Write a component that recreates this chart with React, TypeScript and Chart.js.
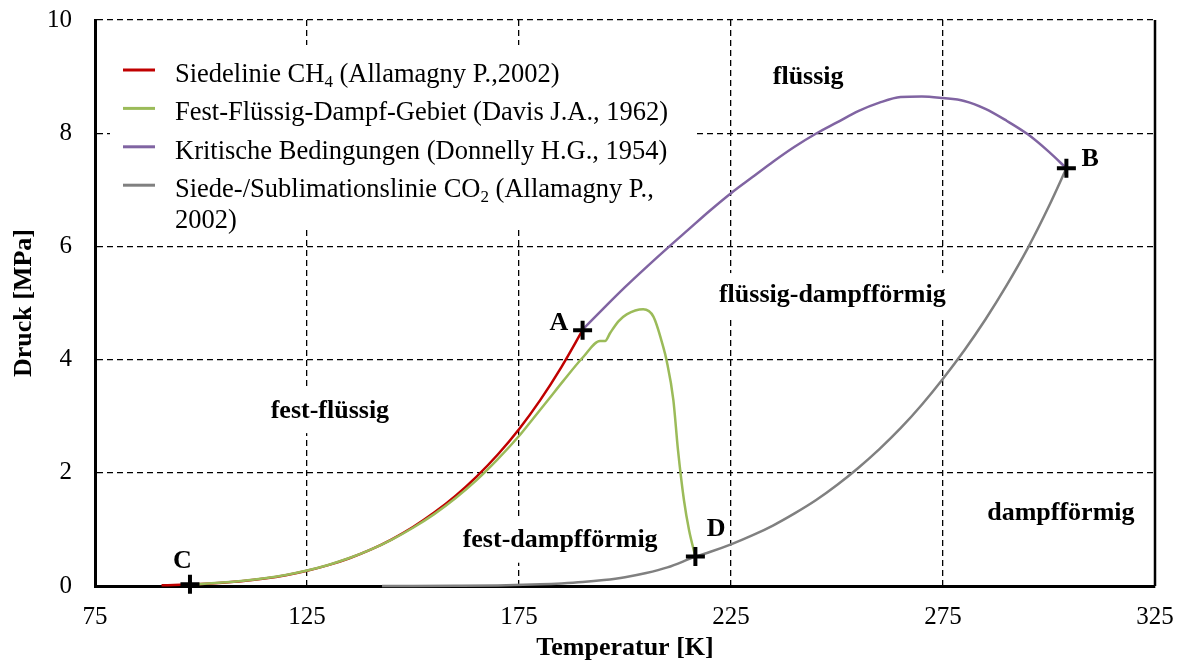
import { useEffect, useRef } from "react";
import { Chart, registerables } from "chart.js";

Chart.register(...registerables);

const SERIF = '"Liberation Serif", "Times New Roman", serif';

// Siedelinie CH4 (Allamagny P., 2002): temperature [K] / pressure [MPa]
const ch4BoilT = [90.7, 95, 100, 105, 110, 115, 120, 125, 130, 135, 140, 145, 150, 155, 160, 165, 170, 175, 180, 185, 190.0];
const ch4BoilP = [0.012, 0.02, 0.034, 0.057, 0.088, 0.132, 0.191, 0.269, 0.368, 0.491, 0.642, 0.825, 1.042, 1.297, 1.592, 1.933, 2.323, 2.77, 3.284, 3.868, 4.52];

// Fest-Flüssig-Dampf-Gebiet (Davis J.A., 1962)
const slvT = [97.4, 100, 105, 110, 115, 120, 125, 130, 135, 140, 145, 150, 155, 160, 165, 170, 175, 177.6, 181.9, 185.4, 190.2, 194.1, 195.3, 196.5, 198.5, 200.4, 204.3, 206.7, 209.0, 209.8, 211.4, 212.5, 213.9, 215.1, 216.6];
const slvP = [0.03, 0.037, 0.06, 0.092, 0.136, 0.196, 0.274, 0.372, 0.494, 0.642, 0.82, 1.03, 1.27, 1.55, 1.87, 2.24, 2.65, 2.89, 3.29, 3.62, 4.05, 4.33, 4.33, 4.47, 4.68, 4.8, 4.89, 4.76, 4.23, 3.99, 3.29, 2.4, 1.52, 0.99, 0.52];

// Kritische Bedingungen (Donnelly H.G., 1954)
const criticalT = [190.0, 195, 200, 205, 210, 215, 220, 225, 230, 235, 240, 245, 250, 255, 260, 265, 270, 275, 280, 285, 290, 295, 300, 304.1];
const criticalP = [4.53, 4.91, 5.28, 5.63, 5.97, 6.3, 6.63, 6.94, 7.22, 7.5, 7.76, 7.99, 8.19, 8.39, 8.54, 8.64, 8.65, 8.62, 8.57, 8.43, 8.22, 7.98, 7.67, 7.38];

// Siede-/Sublimationslinie CO2 (Allamagny P., 2002)
const co2T = [142.7, 150, 160, 170, 180, 185, 190, 195, 200, 205, 210, 216.6, 220, 225, 230, 235, 240, 245, 250, 255, 260, 265, 270, 275, 280, 285, 290, 295, 300, 304.1];
const co2P = [0.0004, 0.001, 0.004, 0.011, 0.029, 0.045, 0.069, 0.105, 0.156, 0.229, 0.329, 0.518, 0.6, 0.736, 0.893, 1.073, 1.283, 1.515, 1.785, 2.086, 2.419, 2.788, 3.203, 3.662, 4.161, 4.709, 5.31, 5.969, 6.713, 7.38];

// Characteristic points A–D
const pointNames = ["A", "B", "C", "D"];
const pointT = [190.0, 304.1, 97.4, 216.6];
const pointP = [4.52, 7.38, 0.03, 0.52];
// where the letter of each point is written
const pointLabelT = [184.4, 309.7, 95.6, 221.5];
const pointLabelP = [4.65, 7.54, 0.44, 1.0];

// Phase regions
const regionNames = ["flüssig", "flüssig-dampfförmig", "fest-flüssig", "fest-dampfförmig", "dampfförmig"];
const regionT = [243.2, 248.9, 130.4, 184.7, 302.8];
const regionP = [8.98, 5.14, 3.09, 0.8, 1.29];

const seriesColors = ["#C00000", "#9BBB59", "#8064A2", "#808080"];
// Legend rows: text split into normal and subscript parts, one array per printed line
const legendRows = [
  [[{ t: "Siedelinie CH" }, { t: "4", sub: true }, { t: " (Allamagny P.,2002)" }]],
  [[{ t: "Fest-Flüssig-Dampf-Gebiet (Davis J.A., 1962)" }]],
  [[{ t: "Kritische Bedingungen (Donnelly H.G., 1954)" }]],
  [[{ t: "Siede-/Sublimationslinie CO" }, { t: "2", sub: true }, { t: " (Allamagny P.," }], [{ t: "2002)" }]],
];

const toXY = (xs: number[], ys: number[]) => xs.map((x, i) => ({ x, y: ys[i] }));

type Part = { t: string; sub?: boolean };

function drawRich(ctx: CanvasRenderingContext2D, parts: Part[], x: number, baseline: number) {
  let cx = x;
  for (const p of parts) {
    ctx.font = p.sub ? `17px ${SERIF}` : `26.5px ${SERIF}`;
    ctx.fillText(p.t, cx, baseline + (p.sub ? 5 : 0));
    cx += ctx.measureText(p.t).width;
  }
}

const annotations = {
  id: "phaseAnnotations",
  beforeDatasetsDraw(chart: any) {
    const { ctx, chartArea, scales } = chart;
    const xs = scales.x;
    const ys = scales.y;
    ctx.save();

    // legend panel
    const lx = chartArea.left + 15;
    const ly = chartArea.top + 25;
    ctx.fillStyle = "#ffffff";
    ctx.fillRect(lx, ly, 583, 182);
    ctx.textAlign = "left";
    ctx.textBaseline = "alphabetic";
    let rowY = chartArea.top + 50;
    legendRows.forEach((row, i) => {
      ctx.strokeStyle = seriesColors[i];
      ctx.lineWidth = 3;
      ctx.beginPath();
      ctx.moveTo(chartArea.left + 28, rowY);
      ctx.lineTo(chartArea.left + 60, rowY);
      ctx.stroke();
      ctx.fillStyle = "#000000";
      row.forEach((line, j) => {
        drawRich(ctx, line as Part[], chartArea.left + 80, rowY + 11.7 + j * 31);
      });
      rowY += 38.4;
    });

    // region names on white ground
    ctx.font = `bold 26px ${SERIF}`;
    ctx.textAlign = "center";
    ctx.textBaseline = "middle";
    regionNames.forEach((name, i) => {
      const px = xs.getPixelForValue(regionT[i]);
      const py = ys.getPixelForValue(regionP[i]);
      const w = ctx.measureText(name).width;
      ctx.fillStyle = "#ffffff";
      ctx.fillRect(px - w / 2 - 6, py - 22, w + 12, 44);
      ctx.fillStyle = "#000000";
      ctx.fillText(name, px, py);
    });
    ctx.restore();
  },
  afterDatasetsDraw(chart: any) {
    const { ctx, chartArea, scales } = chart;
    ctx.save();
    // closing frame line on the right
    ctx.strokeStyle = "#000000";
    ctx.lineWidth = 2.5;
    ctx.beginPath();
    ctx.moveTo(chartArea.right, chartArea.top);
    ctx.lineTo(chartArea.right, chartArea.bottom);
    ctx.stroke();

    ctx.font = `bold 26px ${SERIF}`;
    ctx.textAlign = "center";
    ctx.textBaseline = "middle";
    ctx.fillStyle = "#000000";
    pointNames.forEach((n, i) => {
      ctx.fillText(n, scales.x.getPixelForValue(pointLabelT[i]), scales.y.getPixelForValue(pointLabelP[i]));
    });
    ctx.restore();
  },
};

export default function App() {
  const canvasRef = useRef<HTMLCanvasElement | null>(null);

  useEffect(() => {
    const canvas = canvasRef.current;
    if (!canvas) return;

    const lineSet = (label: string, xs: number[], ys: number[], color: string, order: number) => ({
      type: "line" as const,
      label,
      data: toXY(xs, ys),
      borderColor: color,
      backgroundColor: color,
      borderWidth: 2.5,
      pointRadius: 0,
      fill: false,
      cubicInterpolationMode: "monotone" as const,
      clip: 8,
      order,
    });

    const chart = new Chart(canvas, {
      type: "line",
      data: {
        datasets: [
          lineSet("Siedelinie CH4 (Allamagny P.,2002)", ch4BoilT, ch4BoilP, seriesColors[0], 4),
          lineSet("Fest-Flüssig-Dampf-Gebiet (Davis J.A., 1962)", slvT, slvP, seriesColors[1], 3),
          lineSet("Kritische Bedingungen (Donnelly H.G., 1954)", criticalT, criticalP, seriesColors[2], 2),
          lineSet("Siede-/Sublimationslinie CO2 (Allamagny P., 2002)", co2T, co2P, seriesColors[3], 2),
          {
            type: "scatter" as const,
            label: "Punkte",
            data: toXY(pointT, pointP),
            showLine: false,
            pointStyle: "cross",
            pointRadius: 9.5,
            pointBorderWidth: 4,
            borderColor: "#000000",
            backgroundColor: "#000000",
            clip: 12,
            order: 0,
          },
        ] as any,
      },
      options: {
        responsive: false,
        animation: false,
        events: [],
        layout: { autoPadding: false, padding: { top: 20, right: 28, left: 0, bottom: 0 } },
        plugins: {
          legend: { display: false },
          tooltip: { enabled: false },
        },
        scales: {
          x: {
            type: "linear",
            min: 75,
            max: 325,
            afterFit: (s: any) => {
              s.height = 78;
              s.paddingLeft = 0;
              s.paddingRight = 0;
            },
            afterBuildTicks: (s: any) => {
              s.ticks = [75, 125, 175, 225, 275, 325].map((v) => ({ value: v }));
            },
            ticks: {
              color: "#000000",
              font: { family: SERIF, size: 25 },
              padding: 16,
              maxRotation: 0,
            },
            grid: { color: "#000000", lineWidth: 1.3, drawTicks: false },
            border: { display: true, color: "#000000", width: 3, dash: [6, 4] },
            title: {
              display: true,
              text: "Temperatur [K]",
              color: "#000000",
              font: { family: SERIF, size: 26, weight: "bold", lineHeight: 1.2 },
              padding: { top: 0, bottom: 0 },
            },
          },
          y: {
            type: "linear",
            min: 0,
            max: 10,
            afterFit: (s: any) => {
              s.width = 95;
              s.paddingTop = 0;
              s.paddingBottom = 0;
            },
            ticks: {
              stepSize: 2,
              color: "#000000",
              font: { family: SERIF, size: 25 },
              padding: 23,
            },
            grid: { color: "#000000", lineWidth: 1.3, drawTicks: false },
            border: { display: true, color: "#000000", width: 3, dash: [6, 4] },
            title: {
              display: true,
              text: "Druck [MPa]",
              color: "#000000",
              font: { family: SERIF, size: 26, weight: "bold", lineHeight: 1.2 },
              padding: { top: 9, bottom: 0 },
            },
          },
        },
      },
      plugins: [annotations],
    });

    return () => chart.destroy();
  }, []);

  return (
    <div style={{ position: "fixed", left: 0, top: 0, width: 1183, height: 664, background: "#ffffff" }}>
      <canvas ref={canvasRef} width={1183} height={664} style={{ width: 1183, height: 664, display: "block" }} />
    </div>
  );
}
